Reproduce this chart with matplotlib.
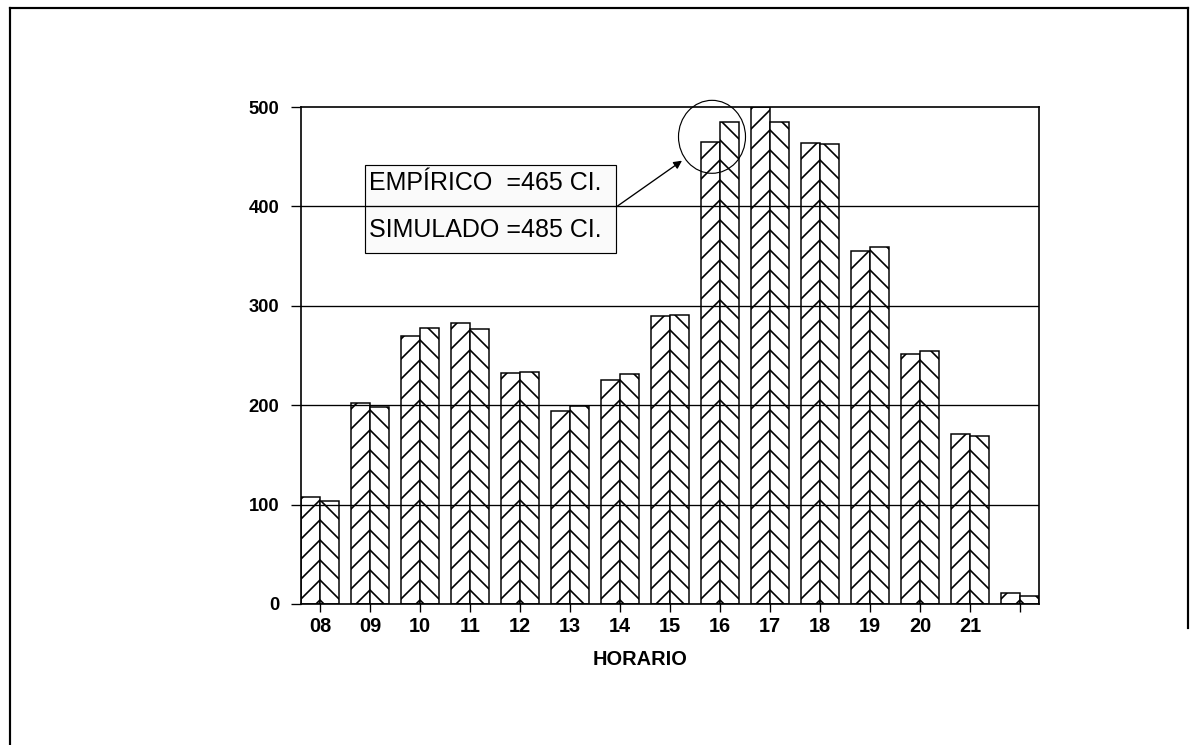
import numpy as np
import matplotlib
matplotlib.use("Agg")
import matplotlib.pyplot as plt
from matplotlib.patches import Rectangle, Ellipse
from matplotlib.lines import Line2D
from matplotlib.transforms import blended_transform_factory

# Clients per hour: empirical vs simulated
hours = ['08', '09', '10', '11', '12', '13', '14', '15', '16', '17', '18', '19', '20', '21', '']
empirico = [108, 202, 270, 283, 232, 194, 225, 290, 465, 500, 464, 355, 252, 171, 11]
simulado = [104, 198, 278, 277, 233, 199, 231, 291, 485, 485, 463, 359, 255, 169, 8]
y_ticks = [0, 100, 200, 300, 400, 500]
peak = 8  # index of the 16 h slot called out in the note

plt.rcParams['font.family'] = ['Liberation Sans', 'DejaVu Sans']
plt.rcParams['hatch.linewidth'] = 1.0

W_PX, H_PX, DPI = 1190, 745, 120
fig = plt.figure(figsize=(W_PX / DPI, H_PX / DPI), dpi=DPI)
fig.patch.set_facecolor('white')
ax = fig.add_axes([301 / W_PX, 141 / H_PX, 738 / W_PX, 497 / H_PX])

x = np.arange(len(hours))
bw = 0.375
ax.bar(x - bw / 2, empirico, bw, facecolor='white', edgecolor='black',
       linewidth=0.9, hatch='//', zorder=2)
ax.bar(x + bw / 2, simulado, bw, facecolor='white', edgecolor='black',
       linewidth=0.9, hatch='\\\\', zorder=2)

ax.set_xlim(-0.38, 14.38)
ax.set_ylim(0, 500)
ax.set_yticks(y_ticks)
ax.set_yticklabels([str(v) for v in y_ticks], fontsize=11, fontweight='bold')
ax.set_xticks(x)
ax.set_xticklabels(hours, fontsize=12, fontweight='bold')
for v in y_ticks[1:-1]:
    ax.axhline(v, color='black', lw=0.8, zorder=3)
ax.tick_params(axis='y', direction='out', length=6, width=0.8, pad=7)
ax.tick_params(axis='x', direction='inout', length=9, width=0.8, pad=3)
for s in ax.spines.values():
    s.set_linewidth(1.0)
    s.set_zorder(4)

trans = blended_transform_factory(ax.transData, ax.transAxes)
ax.text(6.4, -0.111, 'HORARIO', transform=trans, ha='center', va='center',
        fontsize=12, fontweight='bold')

# Callout box for the peak hour
ax.add_patch(Rectangle((0.9, 353.4), 5.02, 88.2, facecolor='#fafafa',
                       edgecolor='black', linewidth=0.7, zorder=2.5))
ax.text(0.98, 423.5, f'EMPÍRICO  ={empirico[peak]} CI.', fontsize=15,
        va='center', ha='left', zorder=5)
ax.text(0.98, 376, f'SIMULADO ={simulado[peak]} CI.', fontsize=15,
        va='center', ha='left', zorder=5)
ax.annotate('', xy=(7.24, 446), xytext=(5.94, 400),
            arrowprops=dict(arrowstyle='-|>', lw=0.8, color='black',
                            mutation_scale=10, shrinkA=0, shrinkB=0),
            zorder=5)
ax.add_patch(Ellipse((7.84, 470), 1.34, 73.4, facecolor='none',
                     edgecolor='black', linewidth=0.7, zorder=5, clip_on=False))

# Page frame
def frame(xs, ys):
    fig.add_artist(Line2D([v / W_PX for v in xs], [1 - v / H_PX for v in ys],
                          transform=fig.transFigure, color='black', lw=1.3))

frame([9.5, 9.5], [8, 745])
frame([9.5, 1187.5], [8, 8])
frame([1187.5, 1187.5], [8, 628])

fig.savefig('out.png', dpi=DPI)
